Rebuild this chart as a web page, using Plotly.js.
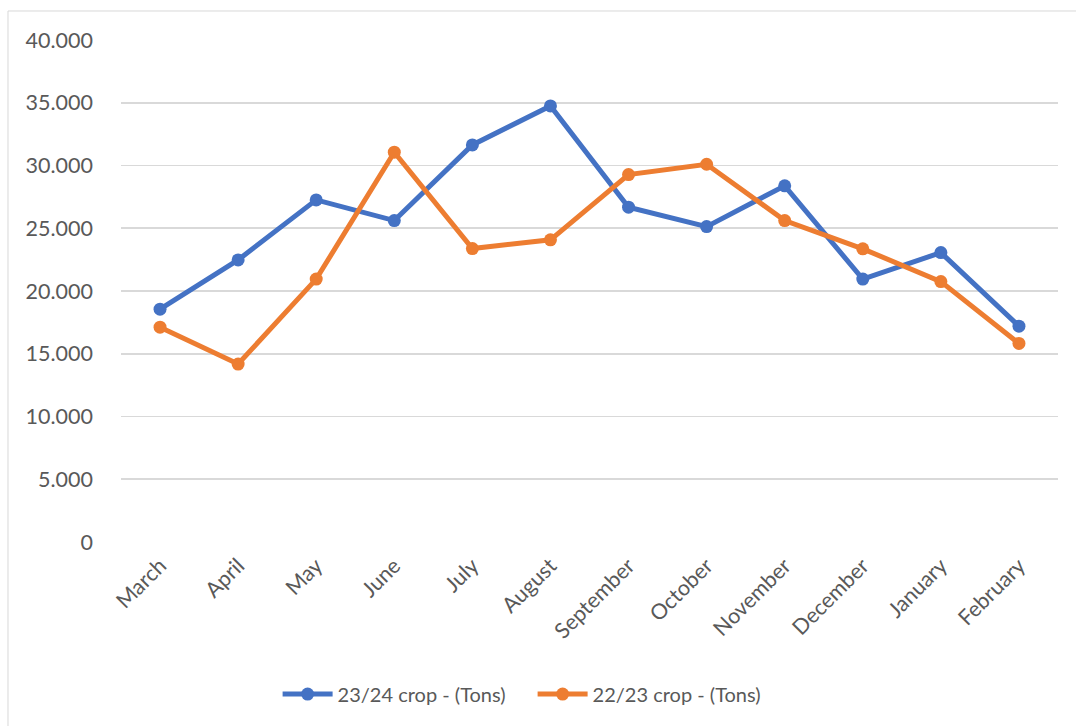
<!DOCTYPE html>
<html>
<head>
<meta charset="utf-8">
<script src="https://cdn.plot.ly/plotly-3.0.1.min.js"></script>
<style>html,body{margin:0;padding:0;background:#fff;}#chart{width:1076px;height:726px;}</style>
</head>
<body>
<div id="chart"></div>
<script>
const months = ["March","April","May","June","July","August","September","October","November","December","January","February"];
const crop2324 = [18550, 22480, 27260, 25610, 31640, 34750, 26680, 25130, 28380, 20950, 23060, 17200];
const crop2223 = [17120, 14180, 20950, 31060, 23380, 24080, 29280, 30100, 25610, 23360, 20750, 15820];
const seriesNames = ["23/24 crop - (Tons)", "22/23 crop - (Tons)"];
const yTicks = [0, 5000, 10000, 15000, 20000, 25000, 30000, 35000, 40000];

const fontFam = "Lato, 'Noto Sans', sans-serif";
const textColor = "#595959";

const traces = [
  {x: months, y: crop2324, name: seriesNames[0], type: "scatter", mode: "lines+markers",
   line: {color: "#4472C4", width: 5}, marker: {color: "#4472C4", size: 13}},
  {x: months, y: crop2223, name: seriesNames[1], type: "scatter", mode: "lines+markers",
   line: {color: "#ED7D31", width: 5}, marker: {color: "#ED7D31", size: 13}}
];

const layout = {
  width: 1076, height: 726,
  margin: {l: 121, r: 18, t: 40, b: 184},
  paper_bgcolor: "#fff", plot_bgcolor: "#fff",
  separators: ",.",
  font: {family: fontFam, size: 20, color: textColor},
  showlegend: true,
  legend: {orientation: "h", xref: "container", yref: "container", x: 0.258, xanchor: "left",
           y: 0.044, yanchor: "middle", font: {size: 20, color: textColor}, itemwidth: 50,
           entrywidth: 190, entrywidthmode: "pixels"},
  xaxis: {type: "category", range: [-0.5, 11.5], tickangle: -45, showgrid: false, zeroline: false,
          showline: false, ticks: "", tickfont: {size: 21.5, color: textColor}, ticklabelstandoff: 6, fixedrange: true},
  yaxis: {range: [0, 40000], tickvals: yTicks, tickformat: ",d", showgrid: true, gridcolor: "#d9d9d9", gridwidth: 1.6,
          zeroline: false, showline: false, ticks: "", ticklabelstandoff: 27, tickfont: {size: 21.5, color: textColor}, fixedrange: true},
  shapes: [
    {type: "rect", xref: "paper", yref: "paper", x0: -0.1206, x1: 1.03, y0: -0.38, y1: 1.0578,
     line: {color: "#d9d9d9", width: 1}, fillcolor: "rgba(0,0,0,0)", layer: "below"}
  ]
};

Plotly.newPlot("chart", traces, layout, {displayModeBar: false, staticPlot: true});
</script>
</body>
</html>
